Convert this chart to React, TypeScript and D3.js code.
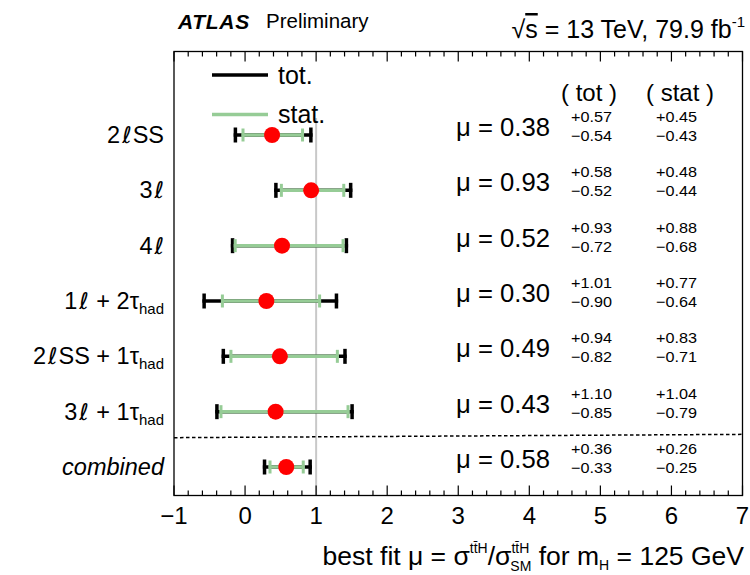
import React from "react";
import * as d3 from "d3";

const categoryLabels = ["2ℓSS", "3ℓ", "4ℓ", "1ℓ + 2τ", "2ℓSS + 1τ", "3ℓ + 1τ", "combined"];
const categorySubs = ["", "", "", "had", "had", "had", ""];
const muValues = [0.38, 0.93, 0.52, 0.30, 0.49, 0.43, 0.58];
const totUp = [0.57, 0.58, 0.93, 1.01, 0.94, 1.10, 0.36];
const totDn = [0.54, 0.52, 0.72, 0.90, 0.82, 0.85, 0.33];
const statUp = [0.45, 0.48, 0.88, 0.77, 0.83, 1.04, 0.26];
const statDn = [0.43, 0.44, 0.68, 0.64, 0.71, 0.79, 0.25];
const xTickValues = [-1, 0, 1, 2, 3, 4, 5, 6, 7];

const W = 750, H = 575;
const FONT = "'Liberation Sans', Arial, Helvetica, sans-serif";
const GREEN = "#96cc96";

function renderLabel(s: string) {
  const parts = s.split("ℓ");
  const out: any[] = [];
  parts.forEach((p, k) => {
    if (k > 0) {
      out.push(
        <tspan key={"l" + k} dx={2} fontFamily="'DejaVu Sans', sans-serif" fontStyle="italic" fontSize={23}>ℓ</tspan>
      );
    }
    if (p.length) out.push(<tspan key={"p" + k} dx={k > 0 ? 1 : 0}>{p}</tspan>);
  });
  return out;
}

export default function App() {
  const left = 174, right = 742.5, top = 51.5, bottom = 495.5;
  const x = d3.scaleLinear().domain([-1, 7]).range([left, right]);
  const y = d3.scaleLinear().domain([0, 6]).range([135, 467]);
  const minor = d3.range(-1, 7.0001, 0.2).map((v) => Math.round(v * 10) / 10);
  const fmt = (v: number) => v.toFixed(2);
  const dashY0 = y(5.47), dashY1 = y(5.41);

  return (
    <svg width={W} height={H} style={{ position: "absolute", left: 0, top: 0, background: "#fff" }} fontFamily={FONT}>
      <rect x={0} y={0} width={W} height={H} fill="#fff" />
      {/* header */}
      <text x={178} y={29} fontSize={21} fontWeight="bold" fontStyle="italic" letterSpacing={0.7}>ATLAS</text>
      <text x={266} y={28} fontSize={20.5}>Preliminary</text>
      <text x={745} y={38} fontSize={25} textAnchor="end">
        <tspan>√</tspan><tspan textDecoration="overline">s</tspan><tspan> = 13 TeV, 79.9 fb</tspan>
        <tspan fontSize={15} dy={-11}>-1</tspan>
      </text>

      {/* reference line at mu = 1 */}
      <line x1={x(1)} x2={x(1)} y1={118} y2={bottom} stroke="#c8c8c8" strokeWidth={2} />

      {/* dashed separator */}
      <line x1={left} x2={right} y1={dashY0} y2={dashY1} stroke="#000" strokeWidth={1.5} strokeDasharray="3.5,2.5" />

      {/* legend */}
      <line x1={212} x2={268} y1={75} y2={75} stroke="#000" strokeWidth={3.5} />
      <text x={278} y={84} fontSize={25}>tot.</text>
      <line x1={212} x2={268} y1={114.5} y2={114.5} stroke={GREEN} strokeWidth={3.5} />
      <text x={278} y={123} fontSize={25}>stat.</text>

      {/* column headers */}
      <text x={589} y={101} fontSize={24} textAnchor="middle">( tot )</text>
      <text x={680} y={101} fontSize={24} textAnchor="middle">( stat )</text>

      {/* error bars */}
      {muValues.map((m, i) => {
        const yy = y(i);
        const tl = x(m - totDn[i]), th = x(m + totUp[i]);
        const sl = x(m - statDn[i]), sh = x(m + statUp[i]);
        return (
          <g key={"e" + i}>
            <line x1={tl} x2={th} y1={yy} y2={yy} stroke="#000" strokeWidth={3.5} />
            <line x1={tl + 1.7} x2={tl + 1.7} y1={yy - 7.5} y2={yy + 7.5} stroke="#000" strokeWidth={3.5} />
            <line x1={th - 1.7} x2={th - 1.7} y1={yy - 7.5} y2={yy + 7.5} stroke="#000" strokeWidth={3.5} />
            <line x1={sl} x2={sh} y1={yy} y2={yy} stroke={GREEN} strokeWidth={3.5} />
            <line x1={sl + 1.5} x2={sl + 1.5} y1={yy - 6.5} y2={yy + 6.5} stroke={GREEN} strokeWidth={3} />
            <line x1={sh - 1.5} x2={sh - 1.5} y1={yy - 6.5} y2={yy + 6.5} stroke={GREEN} strokeWidth={3} />
            <circle cx={x(m)} cy={yy} r={8} fill="#ff0000" />
          </g>
        );
      })}

      {/* mu texts */}
      {muValues.map((m, i) => {
        const yy = y(i);
        return (
          <g key={"t" + i}>
            <text x={456} y={yy + 1} fontSize={25} textLength={94} lengthAdjust="spacingAndGlyphs">μ = {fmt(m)}</text>
            <text x={571} y={yy - 13} fontSize={15} textLength={41} lengthAdjust="spacingAndGlyphs">+{fmt(totUp[i])}</text>
            <text x={571} y={yy + 6} fontSize={15} textLength={41} lengthAdjust="spacingAndGlyphs">−{fmt(totDn[i])}</text>
            <text x={656} y={yy - 13} fontSize={15} textLength={41} lengthAdjust="spacingAndGlyphs">+{fmt(statUp[i])}</text>
            <text x={656} y={yy + 6} fontSize={15} textLength={41} lengthAdjust="spacingAndGlyphs">−{fmt(statDn[i])}</text>
          </g>
        );
      })}

      {/* category labels */}
      {categoryLabels.map((c, i) => (
        <text key={"c" + i} x={164} y={y(i) + 8} fontSize={23.5} textAnchor="end" fontStyle={i === 6 ? "italic" : "normal"}>
          {renderLabel(c)}
          {categorySubs[i] ? <tspan fontSize={15} dy={5}>{categorySubs[i]}</tspan> : null}
        </text>
      ))}

      {/* frame */}
      <rect x={left} y={top} width={right - left} height={bottom - top} fill="none" stroke="#000" strokeWidth={1.3} />
      {minor.map((v, k) => {
        const isMajor = Math.abs(v - Math.round(v)) < 1e-6;
        const len = isMajor ? 10 : 5;
        return (
          <g key={"tk" + k}>
            <line x1={x(v)} x2={x(v)} y1={bottom} y2={bottom - len} stroke="#000" strokeWidth={1.2} />
            <line x1={x(v)} x2={x(v)} y1={top} y2={top + len} stroke="#000" strokeWidth={1.2} />
          </g>
        );
      })}
      {xTickValues.map((v) => (
        <text key={"xl" + v} x={x(v)} y={524} fontSize={24} textAnchor="middle">{v < 0 ? "−" + Math.abs(v) : v}</text>
      ))}

      {/* axis title */}
      <text x={744} y={565} fontSize={26.5} textAnchor="end">
        <tspan>best fit μ = σ</tspan>
        <tspan fontSize={14} dy={-12}>tt̄H</tspan>
        <tspan dy={12}>/σ</tspan>
        <tspan fontSize={14} dy={-12}>tt̄H</tspan>
        <tspan fontSize={14} dx={-19} dy={18}>SM</tspan>
        <tspan dy={-6}> for m</tspan>
        <tspan fontSize={14} dy={5}>H</tspan>
        <tspan dy={-5}> = 125 GeV</tspan>
      </text>
    </svg>
  );
}
